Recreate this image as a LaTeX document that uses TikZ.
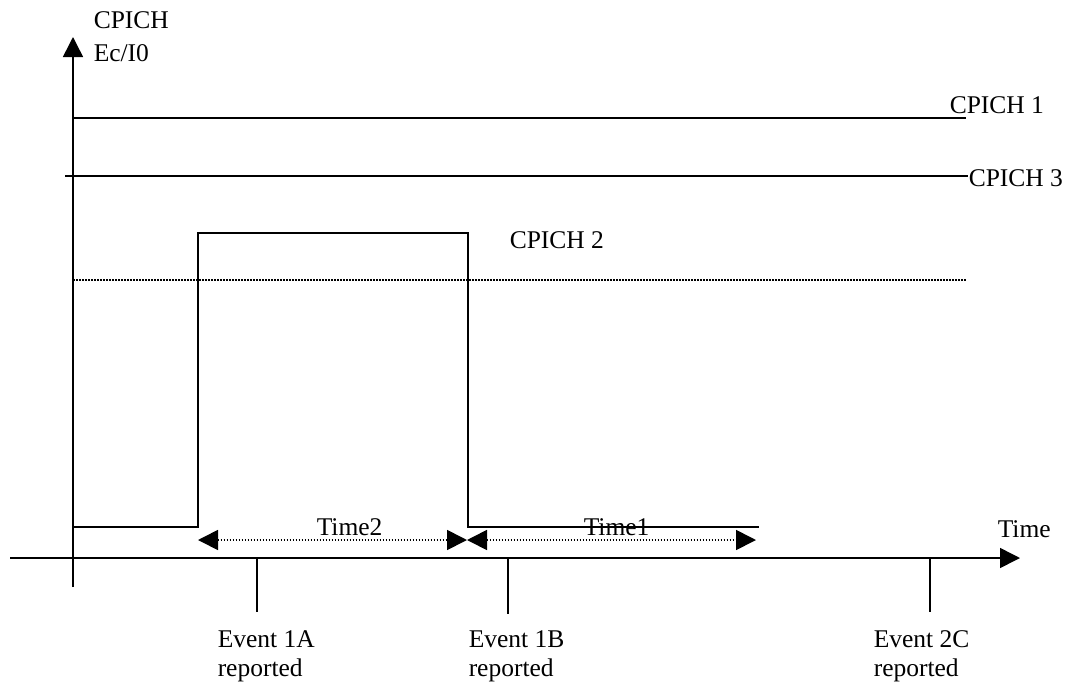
\documentclass[tikz,border=0pt]{standalone}
\usepackage{fontspec}
\setmainfont{Liberation Serif}
\usetikzlibrary{arrows.meta}
\begin{document}
\begin{tikzpicture}[x=1pt,y=-1pt,line width=1.5pt,
  lbl/.style={inner sep=0pt,anchor=base west,font=\fontsize{25.5}{29}\selectfont},
  tri/.style={-{Triangle[length=20pt,width=20pt]}},
  dtri/.style={{Triangle[length=20pt,width=20pt]}-{Triangle[length=20pt,width=20pt]},line width=1.7pt,dash pattern=on 1.5pt off 1.5pt},
  dots/.style={line width=1.6pt,dash pattern=on 1.5pt off 1.5pt}]
\useasboundingbox (0,0) rectangle (1068,691);
% axes
\coordinate (yb) at (73,587);
\coordinate (yt) at (73,37);
\draw[tri] (yb) -- (yt);
\coordinate (xl) at (10,558);
\coordinate (xr) at (1020,558);
\draw[tri] (xl) -- (xr);
\node[lbl] (ylab1) at (93,28) {CPICH};
\node[lbl] (ylab2) at (93,61) {Ec/I0};
\node[lbl] (xlab) at (997,537) {Time};
% CPICH 1 and 3
\coordinate (c1a) at (73,118);
\coordinate (c1b) at (966,118);
\draw (c1a) -- (c1b);
\node[lbl] (c1lab) at (949,113) {CPICH 1};
\coordinate (c3a) at (65,176);
\coordinate (c3b) at (968,176);
\draw (c3a) -- (c3b);
\node[lbl] (c3lab) at (968,186) {CPICH 3};
% threshold
\coordinate (tha) at (73,280);
\coordinate (thb) at (966,280);
\draw[dots] (tha) -- (thb);
% CPICH 2
\coordinate (p0) at (73,527);
\coordinate (p1) at (198,527);
\coordinate (p2) at (198,233);
\coordinate (p3) at (468,233);
\coordinate (p4) at (468,527);
\coordinate (p5) at (759,527);
\draw (p0) -- (p1) -- (p2) -- (p3) -- (p4) -- (p5);
\node[lbl] (c2lab) at (509,248) {CPICH 2};
% time intervals
\coordinate (ta) at (198,540);
\coordinate (tb) at (467,540);
\coordinate (tc) at (756,540);
\draw[dtri] (ta) -- (tb);
\draw[dtri] (tb) -- (tc);
\node[lbl] (t2lab) at (316,535) {Time2};
\node[lbl] (t1lab) at (583,535) {Time1};
% events
\coordinate (e1) at (257,558);
\coordinate (e1b) at (257,612);
\coordinate (e2) at (508,558);
\coordinate (e2b) at (508,614);
\coordinate (e3) at (930,558);
\coordinate (e3b) at (930,612);
\draw (e1) -- (e1b);
\draw (e2) -- (e2b);
\draw (e3) -- (e3b);
\node[lbl] (ev1) at (217,647) {Event 1A};
\node[lbl] (ev1r) at (217,676) {reported};
\node[lbl] (ev2) at (468,647) {Event 1B};
\node[lbl] (ev2r) at (468,676) {reported};
\node[lbl] (ev3) at (873,647) {Event 2C};
\node[lbl] (ev3r) at (873,676) {reported};
\end{tikzpicture}
\end{document}
